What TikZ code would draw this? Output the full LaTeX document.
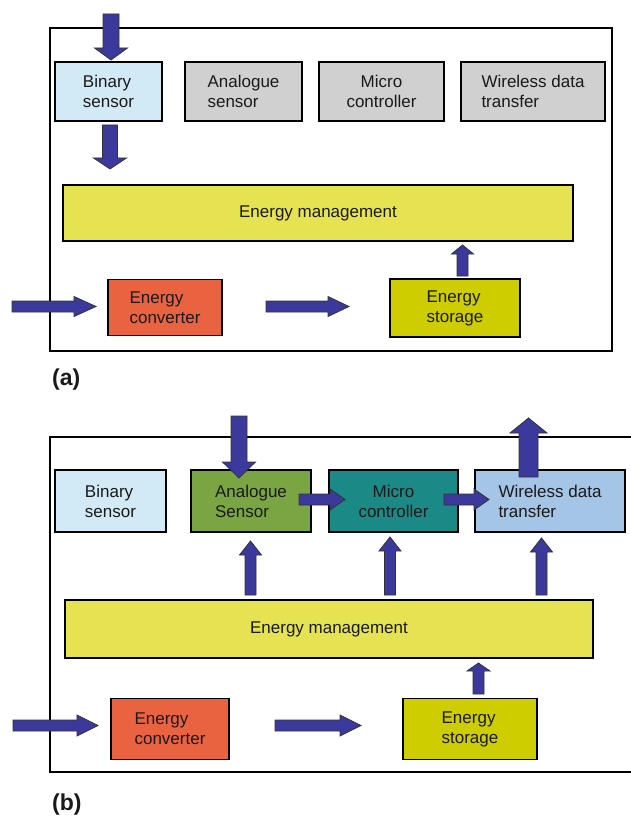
\documentclass[tikz,border=0pt]{standalone}
\usepackage{fontspec}
\setmainfont{Liberation Sans}
\usetikzlibrary{calc}
\definecolor{arrowblue}{HTML}{3B3A9C}
\definecolor{binblue}{HTML}{D2EAF5}
\definecolor{greybox}{HTML}{D0D0D0}
\definecolor{emyellow}{HTML}{E6E352}
\definecolor{convred}{HTML}{EA6340}
\definecolor{storolive}{HTML}{CDCD00}
\definecolor{anagreen}{HTML}{7AA543}
\definecolor{microteal}{HTML}{1B8A87}
\definecolor{wireblue}{HTML}{A5C5E6}
\definecolor{txt}{HTML}{1A1A1A}
\tikzset{
  blk/.style={draw=black, line width=1.2pt, inner sep=0pt, text=txt,
    font=\fontsize{17}{20}\selectfont},
  blockarr/.style={fill=arrowblue, draw=black!80, line width=0.8pt, line join=miter},
  frame/.style={draw=black, line width=1.4pt},
  caption/.style={font=\fontsize{23}{26}\selectfont\bfseries, text=txt, anchor=west, inner sep=0pt}
}
\newcommand\blockarrow[5]{%
  \coordinate (ba-c) at ($(#2)!#5!(#1)$);
  \draw[blockarr] ($(#1)!#3!90:(#2)$) -- ($(ba-c)!#3!90:(#2)$) -- ($(ba-c)!#4!90:(#2)$) -- (#2)
    -- ($(ba-c)!#4!-90:(#2)$) -- ($(ba-c)!#3!-90:(#2)$) -- ($(#1)!#3!-90:(#2)$) -- cycle;
}
\begin{document}
\begin{tikzpicture}[x=1pt,y=-1pt]
\useasboundingbox (0,0) rectangle (630,818);
% ---------- panel (a) ----------
\draw[frame] (50,28) rectangle (612,351);
\node[blk, fill=binblue, minimum width=107pt, minimum height=59pt, align=left] (bsA) at (108.5,91.5) {Binary\\sensor};
\node[blk, fill=greybox, minimum width=117pt, minimum height=59pt, align=left] (asA) at (243.5,91.5) {Analogue\\sensor};
\node[blk, fill=greybox, minimum width=125pt, minimum height=59pt, align=center] (mcA) at (381.5,91.5) {Micro\\controller};
\node[blk, fill=greybox, minimum width=144pt, minimum height=59pt, align=left] (wdA) at (533,91.5) {Wireless data\\transfer};
\node[blk, fill=emyellow, minimum width=510pt, minimum height=56pt] (emA) at (318,213) {Energy management};
\node[blk, fill=convred, minimum width=114pt, minimum height=56pt, align=left] (ecA) at (165,307.5) {Energy\\converter};
\node[blk, fill=storolive, minimum width=130pt, minimum height=58pt, align=left] (esA) at (455,308) {Energy\\storage};
\node[caption] (capA) at (52,380) {(a)};
% arrows (a)
\coordinate (inA1) at (111,14);
\coordinate (inA1t) at (111,60);
\coordinate (bsAo) at (110,125);
\coordinate (emAi) at (110,169);
\coordinate (inA2) at (12,306.5);
\coordinate (ecAi) at (96,306.5);
\coordinate (ecAo) at (266,306.5);
\coordinate (esAi) at (349,306.5);
\coordinate (esAo) at (462.5,276);
\coordinate (emAj) at (462.5,245);
\blockarrow{inA1}{inA1t}{8pt}{16.5pt}{12pt}
\blockarrow{bsAo}{emAi}{7.5pt}{16.5pt}{11pt}
\blockarrow{inA2}{ecAi}{5.5pt}{10pt}{22pt}
\blockarrow{ecAo}{esAi}{5.5pt}{10pt}{21pt}
\blockarrow{esAo}{emAj}{5.5pt}{11pt}{9pt}
% ---------- panel (b) ----------
\draw[frame] (632,437) -- (50,437) -- (50,772) -- (632,772);
\node[blk, fill=binblue, minimum width=111pt, minimum height=62pt, align=left] (bsB) at (110.5,501) {Binary\\sensor};
\node[blk, fill=anagreen, minimum width=120pt, minimum height=62pt, align=left] (asB) at (251,501) {Analogue\\Sensor};
\node[blk, fill=microteal, minimum width=129pt, minimum height=62pt, align=center] (mcB) at (393.5,501) {Micro\\controller};
\node[blk, fill=wireblue, minimum width=150pt, minimum height=62pt, align=left] (wdB) at (550,501) {Wireless data\\transfer};
\node[blk, fill=emyellow, minimum width=528pt, minimum height=58pt] (emB) at (329,629) {Energy management};
\node[blk, fill=convred, minimum width=118pt, minimum height=61pt, align=left] (ecB) at (170,729) {Energy\\converter};
\node[blk, fill=storolive, minimum width=134pt, minimum height=61pt, align=left] (esB) at (470,729) {Energy\\storage};
\node[caption] (capB) at (52,805) {(b)};
% arrows (b)
\coordinate (inB1) at (239,416);
\coordinate (asBi) at (239,478);
\coordinate (wdBo) at (528.5,477);
\coordinate (outB) at (528.5,418);
\coordinate (asBo) at (299,499.5);
\coordinate (mcBi) at (345,499.5);
\coordinate (mcBo) at (444,499.5);
\coordinate (wdBi) at (489,499.5);
\coordinate (emBo1) at (250.5,595);
\coordinate (asBj) at (250.5,541);
\coordinate (emBo2) at (390,595);
\coordinate (mcBj) at (390,537);
\coordinate (emBo3) at (541.5,595);
\coordinate (wdBj) at (541.5,538);
\coordinate (esBo) at (478.5,694);
\coordinate (emBi) at (478.5,663);
\coordinate (inB2) at (13,725.5);
\coordinate (ecBi) at (98,725.5);
\coordinate (ecBo) at (275,725.5);
\coordinate (esBi) at (361,725.5);
\blockarrow{inB1}{asBi}{8pt}{16.5pt}{16pt}
\blockarrow{wdBo}{outB}{9.5pt}{18.5pt}{15pt}
\blockarrow{asBo}{mcBi}{5.5pt}{10.5pt}{15pt}
\blockarrow{mcBo}{wdBi}{5.5pt}{10.5pt}{15pt}
\blockarrow{emBo1}{asBj}{5.5pt}{11pt}{14pt}
\blockarrow{emBo2}{mcBj}{5.5pt}{11pt}{14pt}
\blockarrow{emBo3}{wdBj}{5.5pt}{11pt}{14pt}
\blockarrow{esBo}{emBi}{5.5pt}{11.5pt}{8pt}
\blockarrow{inB2}{ecBi}{5.5pt}{10.5pt}{21pt}
\blockarrow{ecBo}{esBi}{5.5pt}{10.5pt}{21pt}
\end{tikzpicture}
\end{document}
